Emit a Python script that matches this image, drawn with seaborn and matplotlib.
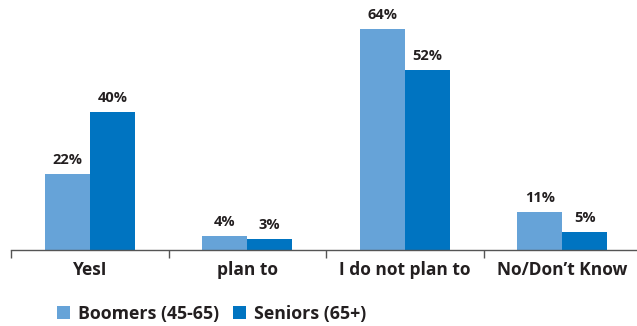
import matplotlib
matplotlib.use("Agg")
import matplotlib.pyplot as plt
import seaborn as sns
import pandas as pd

categories = ["YesI", "plan to", "I do not plan to", "No/Don\u2019t Know"]
series = ["Boomers (45-65)", "Seniors (65+)"]
boomers = [22, 4, 64, 11]
seniors = [40, 3, 52, 5]
colors = ["#66a3d8", "#0074c1"]

df = pd.DataFrame({
    "category": categories * 2,
    "group": [series[0]] * 4 + [series[1]] * 4,
    "value": boomers + seniors,
})

sns.set_theme(style="white")
plt.rcParams["font.family"] = ["Open Sans", "DejaVu Sans"]
text_color = "#231f20"

fig = plt.figure(figsize=(6.37, 3.26), dpi=100)
ax = fig.add_axes([11 / 637, 1 - 249.5 / 326, 630 / 637, 249 / 326])
sns.barplot(data=df, x="category", y="value", hue="group", order=categories,
            hue_order=series, palette=colors, width=0.572, gap=0,
            saturation=1, ax=ax, legend=True, edgecolor="none", linewidth=0)

for cont in ax.containers:
    ax.bar_label(cont, labels=[f"{v:.0f}%" for v in cont.datavalues],
                 padding=5, fontsize=10.5, fontweight="bold", color=text_color)

ax.set_xlim(-0.5, 3.5)
ax.set_ylim(0, 72.3)
for s in ["top", "right", "left"]:
    ax.spines[s].set_visible(False)
ax.spines["bottom"].set_color("#555555")
ax.spines["bottom"].set_linewidth(1.0)
ax.set_yticks([])
ax.set_xlabel("")
ax.set_ylabel("")
ax.tick_params(axis="x", which="major", length=0, pad=8, labelsize=12.5,
               labelcolor=text_color, bottom=True)
for lbl in ax.get_xticklabels():
    lbl.set_fontweight("bold")
ax.set_xticks([-0.5, 0.5, 1.5, 2.5, 3.5], minor=True)
ax.tick_params(axis="x", which="minor", length=6, width=1.0, color="#555555",
               direction="out", bottom=True)

handles, labels = ax.get_legend_handles_labels()
ax.legend_.remove()
leg = fig.legend(handles, labels, loc="center left",
                 bbox_to_anchor=(41 / 637, 1 - 314 / 326),
                 ncol=2, frameon=False, handlelength=0.75, handleheight=0.75,
                 handletextpad=0.45, columnspacing=0.75,
                 prop={"size": 12.8, "weight": "bold"})
for t in leg.get_texts():
    t.set_color(text_color)

fig.savefig("out.png", dpi=100)
